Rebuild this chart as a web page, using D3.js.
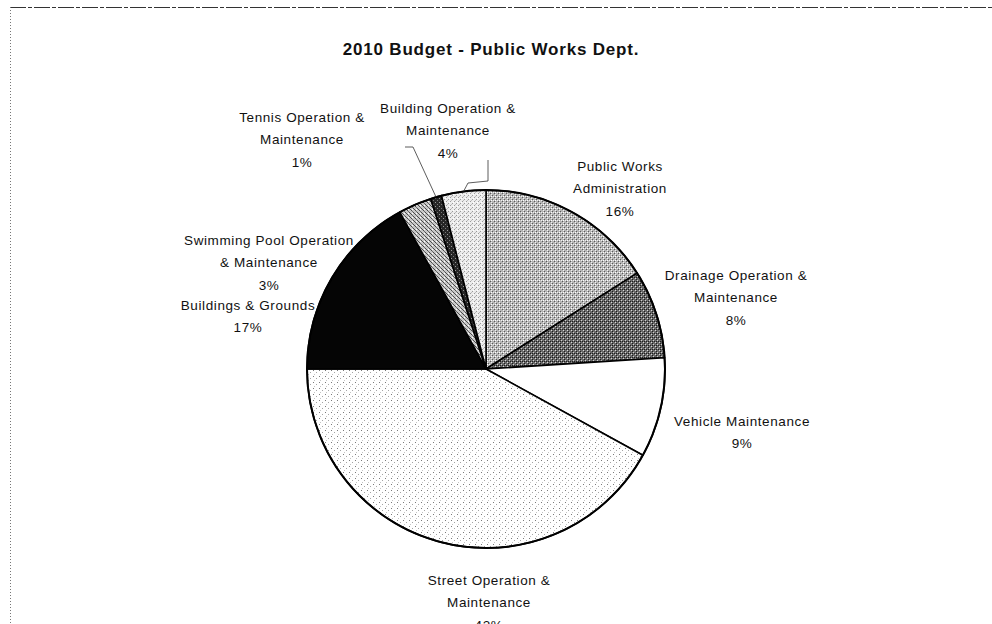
<!DOCTYPE html>
<html>
<head>
<meta charset="utf-8">
<script src="https://cdn.jsdelivr.net/npm/d3@7"></script>
<style>
  html, body { margin: 0; padding: 0; background: #fff; }
  svg { display: block; }
  text { font-family: "Liberation Sans", Arial, sans-serif; fill: #111; }
</style>
</head>
<body>
<script>
// Budget shares by division, clockwise from 12 o'clock
const categories = [
  "Public Works Administration",
  "Drainage Operation & Maintenance",
  "Vehicle Maintenance",
  "Street Operation & Maintenance",
  "Buildings & Grounds",
  "Swimming Pool Operation & Maintenance",
  "Tennis Operation & Maintenance",
  "Building Operation & Maintenance"
];
const shares = [16, 8, 9, 42, 17, 3, 1, 4];

// How each label is broken into lines
const labelLines = [
  ["Public Works", "Administration"],
  ["Drainage Operation &", "Maintenance"],
  ["Vehicle Maintenance"],
  ["Street Operation &", "Maintenance"],
  ["Buildings & Grounds"],
  ["Swimming Pool Operation", "& Maintenance"],
  ["Tennis Operation &", "Maintenance"],
  ["Building Operation &", "Maintenance"]
];

const title = "2010 Budget - Public Works Dept.";

// ---- layout ----
const W = 992, H = 624;
const cx = 486, cy = 369, R = 179;
const lineH = 22.3;

// label anchor (centre x, baseline of first line), offset from pie centre
const labelAnchor = [
  [134, -198], [250, -89], [256, 57], [3, 216],
  [-238, -59], [-217, -124], [-184, -247], [-38, -256]
];

const svg = d3.select("body").append("svg")
  .attr("width", W).attr("height", H);

// ---- fill patterns ----
const defs = svg.append("defs");
function pattern(id, size, bg, draw) {
  const p = defs.append("pattern").attr("id", id)
    .attr("patternUnits", "userSpaceOnUse")
    .attr("width", size).attr("height", size);
  p.append("rect").attr("width", size).attr("height", size).attr("fill", bg);
  draw(p);
  return `url(#${id})`;
}
const px = (p, x, y, c) => p.append("rect").attr("x", x).attr("y", y)
  .attr("width", 1).attr("height", 1).attr("fill", c);

const fills = [
  // medium grey crosshatch
  pattern("pw", 4, "#b4b4b4", p => {
    px(p, 0, 0, "#5a5a5a"); px(p, 2, 2, "#5a5a5a");
    px(p, 1, 1, "#f0f0f0"); px(p, 3, 3, "#f0f0f0"); px(p, 1, 3, "#ffffff");
  }),
  // dark crosshatch
  pattern("dr", 4, "#6a6a6a", p => {
    px(p, 0, 0, "#1e1e1e"); px(p, 2, 2, "#1e1e1e"); px(p, 2, 0, "#1e1e1e");
    px(p, 1, 1, "#d8d8d8"); px(p, 3, 3, "#cfcfcf");
  }),
  // plain white
  "#ffffff",
  // sparse dots
  pattern("st", 6, "#ffffff", p => {
    px(p, 1, 1, "#7a7a7a"); px(p, 4, 3, "#a5a5a5"); px(p, 2, 5, "#c5c5c5");
  }),
  // solid black
  "#050505",
  // fine diagonal grey
  pattern("sp", 4, "#c8c8c8", p => {
    px(p, 0, 0, "#4a4a4a"); px(p, 1, 1, "#4a4a4a"); px(p, 2, 2, "#6a6a6a"); px(p, 3, 3, "#4a4a4a");
    px(p, 2, 0, "#ffffff");
  }),
  // near black
  pattern("tn", 4, "#262626", p => { px(p, 1, 1, "#9a9a9a"); px(p, 3, 3, "#777"); }),
  // light checker
  pattern("bo", 4, "#ececec", p => {
    px(p, 0, 0, "#9a9a9a"); px(p, 2, 2, "#9a9a9a"); px(p, 1, 3, "#bdbdbd");
    px(p, 3, 1, "#ffffff");
  })
];

// ---- frame ----
svg.append("line").attr("x1", 10).attr("y1", 7.5).attr("x2", W).attr("y2", 7.5)
  .attr("stroke", "#333").attr("stroke-width", 1).attr("stroke-dasharray", "16,2,4,2");
svg.append("line").attr("x1", 10.5).attr("y1", 7).attr("x2", 10.5).attr("y2", H)
  .attr("stroke", "#777").attr("stroke-width", 1).attr("stroke-dasharray", "1,2");

// ---- title ----
svg.append("text").attr("x", 491).attr("y", 55)
  .attr("text-anchor", "middle")
  .style("font-weight", "bold").style("font-size", "17px")
  .style("letter-spacing", "0.8px")
  .text(title);

// ---- pie ----
const pie = d3.pie().sort(null).value(d => d);
const arcs = pie(shares);
const arc = d3.arc().innerRadius(0).outerRadius(R);

const g = svg.append("g").attr("transform", `translate(${cx},${cy})`);
g.selectAll("path.slice").data(arcs).join("path")
  .attr("class", "slice")
  .attr("d", arc)
  .attr("fill", (d, i) => fills[i])
  .attr("stroke", "#000").attr("stroke-width", 1.6)
  .attr("stroke-linejoin", "round");
g.append("circle").attr("r", R).attr("fill", "none")
  .attr("stroke", "#000").attr("stroke-width", 2);

// ---- leader lines for the two thin slices ----
const edge = (d, k = 1) => {
  const a = (d.startAngle + d.endAngle) / 2;
  return [Math.sin(a) * R * k, -Math.cos(a) * R * k];
};
const tn = edge(arcs[6]);
const bo = edge(arcs[7]);
g.append("path")
  .attr("d", d3.line()([[-81, -222], [-73, -222], tn]))
  .attr("fill", "none").attr("stroke", "#333").attr("stroke-width", 0.8);
g.append("path")
  .attr("d", d3.line()([[2, -209], [2, -188], [-18, -186], bo]))
  .attr("fill", "none").attr("stroke", "#333").attr("stroke-width", 0.8);

// ---- labels ----
const fmt = d3.format(".0%");
const total = d3.sum(shares);
const lg = svg.append("g").style("font-size", "13.5px").style("letter-spacing", "0.6px");
arcs.forEach((d, i) => {
  const [dx, dy] = labelAnchor[i];
  const t = lg.append("text").attr("text-anchor", "middle")
    .attr("x", cx + dx).attr("y", cy + dy);
  const lines = labelLines[i].concat([fmt(d.data / total)]);
  lines.forEach((s, j) => {
    t.append("tspan").attr("x", cx + dx).attr("dy", j === 0 ? 0 : lineH).text(s);
  });
});
</script>
</body>
</html>
